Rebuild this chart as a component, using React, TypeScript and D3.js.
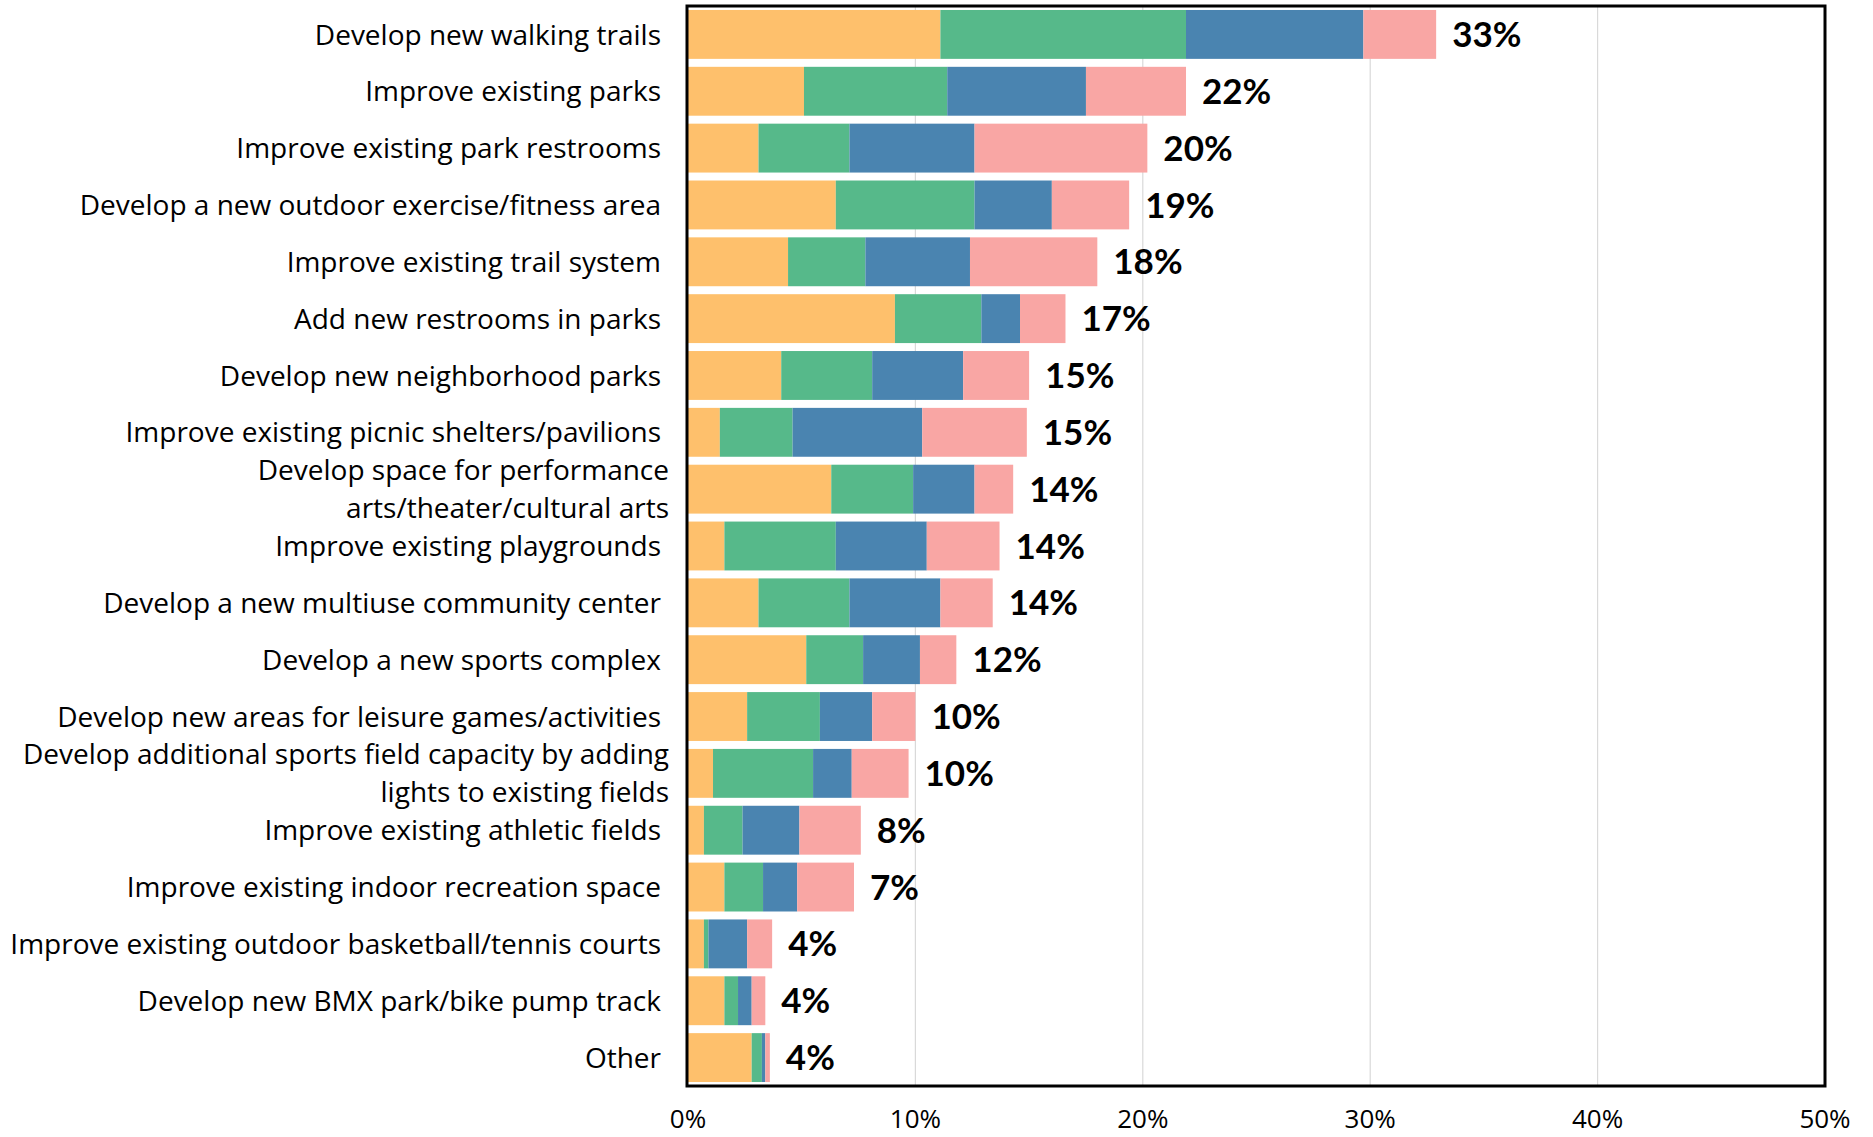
import * as d3 from "d3";

// Categories, top to bottom
const categories = [
  "Develop new walking trails",
  "Improve existing parks",
  "Improve existing park restrooms",
  "Develop a new outdoor exercise/fitness area",
  "Improve existing trail system",
  "Add new restrooms in parks",
  "Develop new neighborhood parks",
  "Improve existing picnic shelters/pavilions",
  "Develop space for performance\narts/theater/cultural arts",
  "Improve existing playgrounds",
  "Develop a new multiuse community center",
  "Develop a new sports complex",
  "Develop new areas for leisure games/activities",
  "Develop additional sports field capacity by adding\nlights to existing fields",
  "Improve existing athletic fields",
  "Improve existing indoor recreation space",
  "Improve existing outdoor basketball/tennis courts",
  "Develop new BMX park/bike pump track",
  "Other",
];

// Share of respondents (%) per ranked choice
const firstChoice = [11.1, 5.1, 3.1, 6.5, 4.4, 9.1, 4.1, 1.4, 6.3, 1.6, 3.1, 5.2, 2.6, 1.1, 0.7, 1.6, 0.7, 1.6, 2.8];
const secondChoice = [10.8, 6.3, 4.0, 6.1, 3.4, 3.8, 4.0, 3.2, 3.6, 4.9, 4.0, 2.5, 3.2, 4.4, 1.7, 1.7, 0.2, 0.6, 0.45];
const thirdChoice = [7.8, 6.1, 5.5, 3.4, 4.6, 1.7, 4.0, 5.7, 2.7, 4.0, 4.0, 2.5, 2.3, 1.7, 2.5, 1.5, 1.7, 0.6, 0.15];
const fourthChoice = [3.2, 4.4, 7.6, 3.4, 5.6, 2.0, 2.9, 4.6, 1.7, 3.2, 2.3, 1.6, 1.9, 2.5, 2.7, 2.5, 1.1, 0.6, 0.2];

const totalLabels = ["33%", "22%", "20%", "19%", "18%", "17%", "15%", "15%", "14%", "14%", "14%", "12%", "10%", "10%", "8%", "7%", "4%", "4%", "4%"];

const xTicks = [0, 10, 20, 30, 40, 50];

const seriesKeys = ["first", "second", "third", "fourth"];
const seriesColors = ["#FEC06C", "#56B98A", "#4A84B0", "#F9A6A4"];

const W = 1873;
const H = 1137;
const FONT = "'Open Sans', Lato, sans-serif";
const BOLD_FONT = "Lato, 'Open Sans', sans-serif";

export default function App() {
  // plot frame
  const left = 688;
  const right = 1825;
  const top = 6;
  const bottom = 1086;

  const x = d3.scaleLinear().domain([0, 50]).range([left, right]);
  const y = d3
    .scaleBand()
    .domain(categories)
    .range([top, bottom])
    .paddingInner(0.14)
    .paddingOuter(0.07);

  const rows = categories.map((c, i) => ({
    category: c,
    first: firstChoice[i],
    second: secondChoice[i],
    third: thirdChoice[i],
    fourth: fourthChoice[i],
  }));

  const stacked = d3.stack<any>().keys(seriesKeys)(rows);

  return (
    <svg
      width={W}
      height={H}
      style={{ position: "absolute", left: 0, top: 0, background: "#fff" }}
    >
      <rect x={0} y={0} width={W} height={H} fill="#fff" />

      {/* gridlines */}
      {xTicks.slice(1, -1).map((t) => (
        <line
          key={t}
          x1={x(t)}
          x2={x(t)}
          y1={top}
          y2={bottom}
          stroke="#D9D9D9"
          strokeWidth={1.2}
        />
      ))}

      {/* bars */}
      {stacked.map((s, si) => (
        <g key={s.key} fill={seriesColors[si]}>
          {s.map((d: any, i: number) => (
            <rect
              key={i}
              x={x(d[0])}
              y={y(categories[i])}
              width={Math.max(0, x(d[1]) - x(d[0]))}
              height={y.bandwidth()}
            />
          ))}
        </g>
      ))}

      {/* total labels */}
      {categories.map((c, i) => {
        const total = firstChoice[i] + secondChoice[i] + thirdChoice[i] + fourthChoice[i];
        return (
          <text
            key={c}
            x={x(total) + 16}
            y={(y(c) as number) + y.bandwidth() / 2}
            dy="0.36em"
            fontFamily={BOLD_FONT}
            fontWeight={700}
            fontSize={35}
            fill="#000"
          >
            {totalLabels[i]}
          </text>
        );
      })}

      {/* category labels */}
      {categories.map((c) => {
        const lines = c.split("\n");
        const cy = (y(c) as number) + y.bandwidth() / 2;
        const lx = lines.length > 1 ? 669 : 661;
        return (
          <text
            key={c}
            x={lx}
            y={cy}
            textAnchor="end"
            fontFamily={FONT}
            fontSize={28}
            fill="#000"
          >
            {lines.map((l, li) => (
              <tspan
                key={li}
                x={lx}
                dy={li === 0 ? `${0.36 - (lines.length - 1) * 0.68}em` : "1.36em"}
              >
                {l}
              </tspan>
            ))}
          </text>
        );
      })}

      {/* frame */}
      <rect
        x={left - 1}
        y={top}
        width={right - left + 1}
        height={bottom - top}
        fill="none"
        stroke="#000"
        strokeWidth={3}
      />

      {/* x tick labels */}
      {xTicks.map((t) => (
        <text
          key={t}
          x={x(t)}
          y={1128}
          textAnchor="middle"
          fontFamily={FONT}
          fontSize={26}
          fill="#000"
        >
          {t}%
        </text>
      ))}
    </svg>
  );
}
